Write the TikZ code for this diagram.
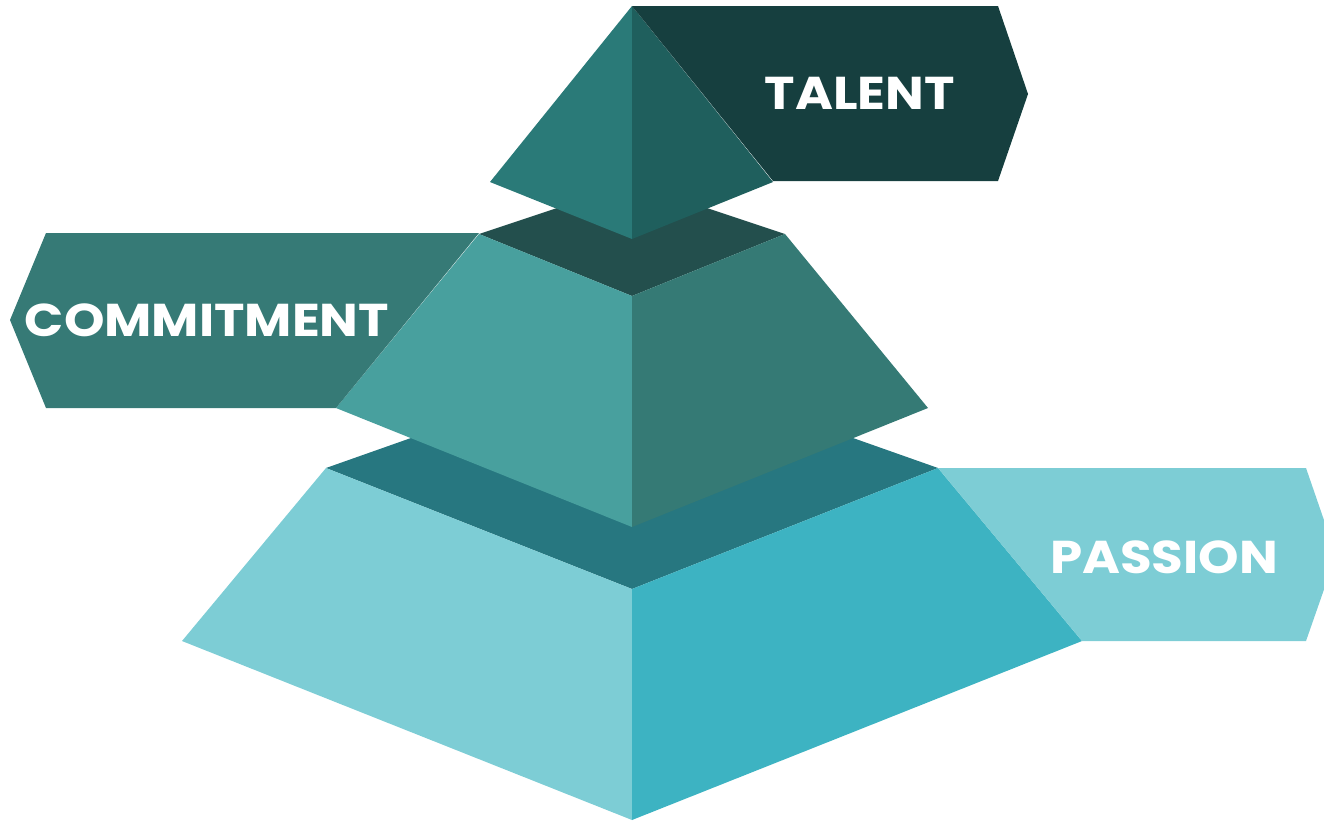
\documentclass[tikz,border=0pt]{standalone}
\usepackage{fontspec}
\setmainfont{Poppins}[UprightFont=* SemiBold, BoldFont=* Bold, BoldFeatures={FakeStretch=1.12}]
\definecolor{topL}{HTML}{2A7A78}
\definecolor{topR}{HTML}{1F5F5D}
\definecolor{talentC}{HTML}{163F3F}
\definecolor{bandA}{HTML}{234F4D}
\definecolor{midL}{HTML}{48A09E}
\definecolor{midR}{HTML}{357A75}
\definecolor{commitC}{HTML}{367A76}
\definecolor{bandB}{HTML}{277780}
\definecolor{botL}{HTML}{7DCDD5}
\definecolor{botR}{HTML}{3DB3C2}
\definecolor{passC}{HTML}{7DCDD5}
\tikzset{
  lbl/.style={text=white, font=\bfseries\fontsize{46}{46}\selectfont, inner sep=0pt}
}
\begin{document}
\begin{tikzpicture}[x=1pt,y=-1pt]
\useasboundingbox (0,0) rectangle (1324,822);
% lower band
\fill[bandB] (326,468) -- (632,360) -- (938,468) -- (632,589) -- cycle;
% bottom frustum
\fill[botL] (326,468) -- (632,589) -- (632,820) -- (182,641) -- cycle;
\fill[botR] (632,589) -- (938,468) -- (1082,641) -- (632,820) -- cycle;
% passion banner
\fill[passC] (938,468) -- (1306,468) -- (1336,555) -- (1306,641) -- (1082,641) -- cycle;
% upper band
\fill[bandA] (479,234) -- (632,183) -- (785,234) -- (632,296) -- cycle;
% middle frustum
\fill[midL] (479,234) -- (632,296) -- (632,527) -- (336,408) -- cycle;
\fill[midR] (632,296) -- (785,234) -- (928,408) -- (632,527) -- cycle;
% commitment banner
\fill[commitC] (46,233) -- (479,233) -- (336,408) -- (46,408) -- (10,320) -- cycle;
% top pyramid
\fill[topL] (632,6) -- (632,239) -- (490,182) -- cycle;
\fill[topR] (632,6) -- (773,182) -- (632,239) -- cycle;
% talent banner
\fill[talentC] (632,6) -- (998,6) -- (1028,94) -- (998,181) -- (773,181) -- cycle;
% labels
\node[lbl] (talent) at (860,93) {TALENT};
\node[lbl] (commitment) at (207,320) {COMMITMENT};
\node[lbl] (passion) at (1164,557) {PASSION};
\end{tikzpicture}
\end{document}
